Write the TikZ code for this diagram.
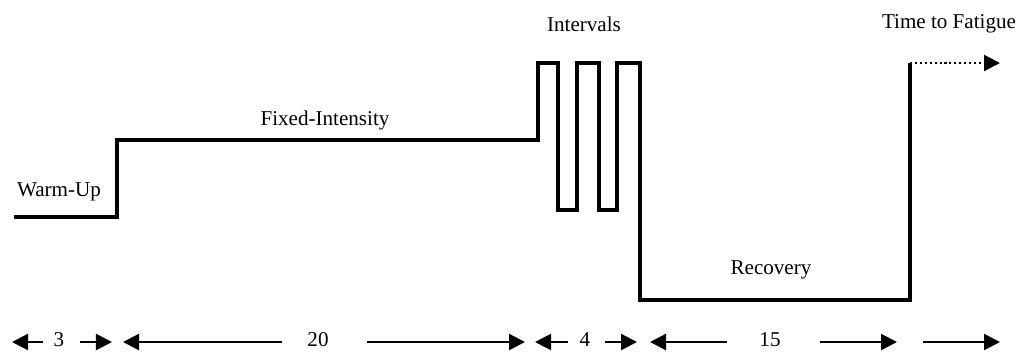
\documentclass[tikz,border=0pt]{standalone}
\usepackage{fontspec}
\setmainfont{Liberation Serif}
\usetikzlibrary{arrows.meta}
\begin{document}
\begin{tikzpicture}[x=0.025cm, y=-0.025cm,
    profile/.style={line width=2.5pt, line join=miter},
    span/.style={line width=1.6pt, -{Triangle[length=4mm,width=4mm]}},
    lbl/.style={font=\fontsize{15}{18}\selectfont, inner sep=0pt}]
    \useasboundingbox (0,0) rectangle (1018,351);

    % exercise profile
    \draw[profile] (14,217) -- (117,217) -- (117,140) -- (538,140)
        -- (538,63) -- (558,63) -- (558,210) -- (577,210) -- (577,63)
        -- (599,63) -- (599,210) -- (617,210) -- (617,63) -- (640,63)
        -- (640,300) -- (910,300) -- (910,63) coordinate (fatigue);
    \coordinate (end) at (1000,63);
    \draw[dotted, line width=1.5pt, -{Triangle[length=4mm,width=4mm]}] (fatigue) -- (end);

    \node[lbl] (warm) at (59,192) {Warm-Up};
    \node[lbl] (fixed) at (325,120) {Fixed-Intensity};
    \node[lbl] (intervals) at (584,24) {Intervals};
    \node[lbl] (ttf) at (949,24) {Time to Fatigue};
    \node[lbl] (recovery) at (771,270) {Recovery};

    % durations
    \node[lbl] (d3) at (59,340) {3};
    \node[lbl] (d20) at (318,340) {20};
    \node[lbl] (d4) at (585,340) {4};
    \node[lbl] (d15) at (770,340) {15};
    \foreach \from/\to in {43/12, 80/112, 282/123, 367/525, 568/535, 605/637, 727/650, 820/897, 923/1000}
        \draw[span] (\from,342) -- (\to,342);
\end{tikzpicture}
\end{document}
